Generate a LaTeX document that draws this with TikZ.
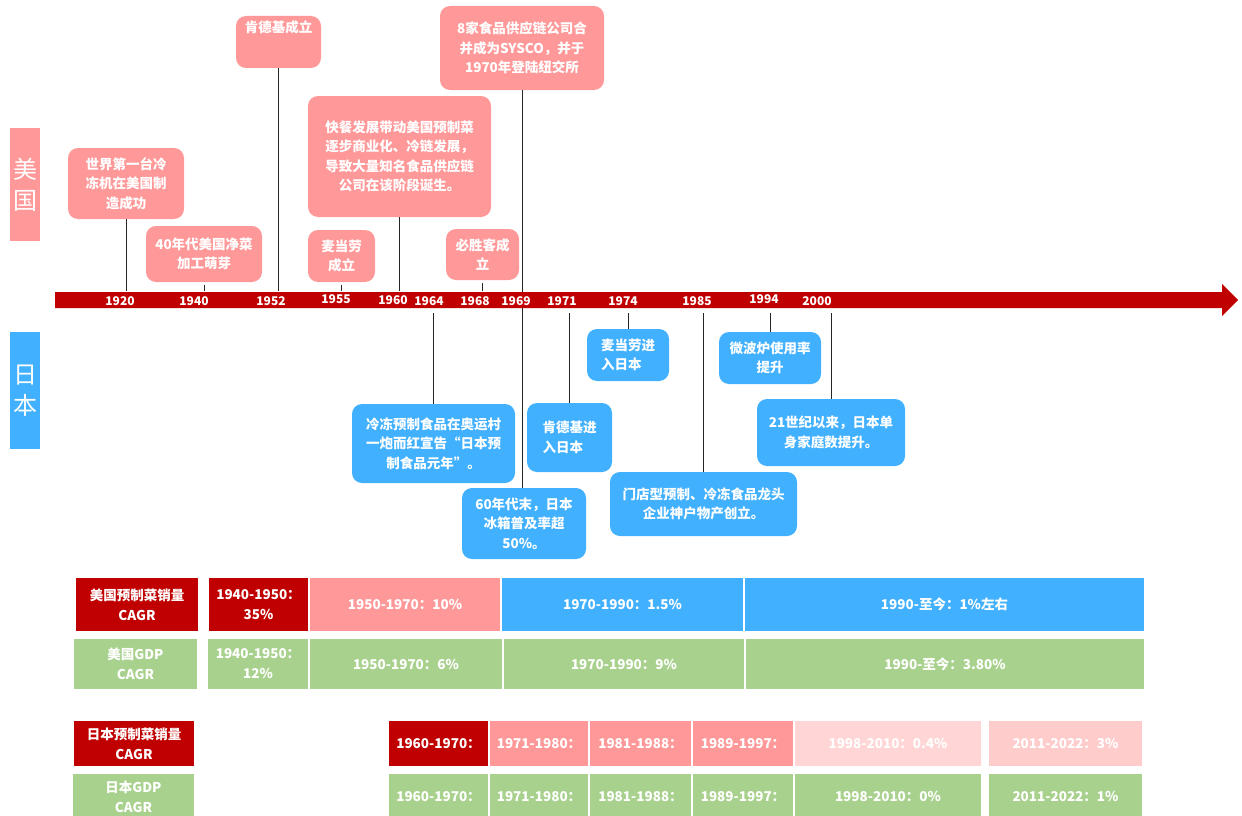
\documentclass[tikz,border=0pt]{standalone}
\usepackage{fontspec}
\setmainfont{Noto Sans CJK SC}
\usetikzlibrary{positioning}
\definecolor{usred}{HTML}{C00000}
\definecolor{uspink}{HTML}{FF9999}
\definecolor{jpblue}{HTML}{41B0FF}
\definecolor{gdpgreen}{HTML}{A9D18E}
\definecolor{palepink}{HTML}{FFD5D5}
\definecolor{softpink}{HTML}{FFCCCC}
\tikzset{
  evbox/.style={rectangle, rounded corners=10pt, fill=#1, text=white, align=center,
                inner sep=4pt, font=\fontsize{13.5}{19.5}\selectfont\bfseries},
  evbox/.default=uspink,
  cell/.style={rectangle, fill=#1, draw=white, line width=1.5pt, text=white, align=center,
               inner sep=0pt, outer sep=0pt, font=\fontsize{13.5}{20}\selectfont\bfseries},
  cell/.default=usred,
  stem/.style={draw=black!85, line width=1pt},
  yr/.style={text=white, inner sep=0pt, font=\fontsize{12}{12}\selectfont\bfseries},
}

\begin{document}
\begin{tikzpicture}[x=1pt, y=-1pt,
  side/.style={rectangle, fill=#1, text=white, align=center, minimum width=30pt,
               font=\fontsize{24}{31}\selectfont}
]
  \fill[white] (0,0) rectangle (1242,816);
  \useasboundingbox (0,0) rectangle (1242,816);

  % country tags
  \node[side=uspink, minimum height=113pt] (ustag) at (25,184.5) {美\\国};
  \node[side=jpblue, minimum height=117pt] (jptag) at (25,390.5) {日\\本};

  % US events
  \node[evbox, minimum width=116pt, minimum height=71pt] (fridge) at (126,183.5) {世界第一台冷\\冻机在美国制\\造成功};
  \node[evbox, minimum width=116pt, minimum height=56pt] (veggie) at (204,254) {40年代美国净菜\\加工萌芽};
  \node[evbox, minimum width=85pt, minimum height=52pt, text height=12pt, text depth=30pt] (kfcus) at (278.5,42) {肯德基成立};
  \node[evbox, minimum width=183pt, minimum height=121pt] (fastfood) at (399.5,156.5) {快餐发展带动美国预制菜\\逐步商业化、冷链发展，\\导致大量知名食品供应链\\公司在该阶段诞生。};
  \node[evbox, minimum width=67pt, minimum height=52pt] (mcdus) at (341.5,256) {麦当劳\\成立};
  \node[evbox, minimum width=73pt, minimum height=51pt] (pizza) at (482.5,254.5) {必胜客成\\立};
  \node[evbox, minimum width=164pt, minimum height=84pt] (sysco) at (522,48) {8家食品供应链公司合\\并成为SYSCO，并于\\1970年登陆纽交所};

  % Japan events
  \node[evbox=jpblue, minimum width=163pt, minimum height=79pt] (olympic) at (433.5,443.5) {冷冻预制食品在奥运村\\一炮而红宣告“日本预\\制食品元年”。};
  \node[evbox=jpblue, minimum width=124pt, minimum height=71pt] (fridgejp) at (524,523.5) {60年代末，日本\\冰箱普及率超\\50\%。};
  \node[evbox=jpblue, minimum width=85pt, minimum height=69pt, align=left] (kfcjp) at (569.5,437.5) {肯德基进\\入日本};
  \node[evbox=jpblue, minimum width=82pt, minimum height=52pt, align=left] (mcdjp) at (628,355) {麦当劳进\\入日本};
  \node[evbox=jpblue, minimum width=187pt, minimum height=64pt] (kobe) at (703.5,504) {门店型预制、冷冻食品龙头\\企业神户物产创立。};
  \node[evbox=jpblue, minimum width=102pt, minimum height=52pt] (microwave) at (770,358) {微波炉使用率\\提升};
  \node[evbox=jpblue, minimum width=148pt, minimum height=67pt] (single) at (831,432.5) {21世纪以来，日本单\\身家庭数提升。};

  \coordinate (axtop) at (0,291);
  \coordinate (axbot) at (0,313);

  \draw[stem] (fridge.south) -- (fridge.south |- axtop);
  \draw[stem, shorten <=3pt] (veggie.south) -- (veggie.south |- axtop);
  \draw[stem] (kfcus.south) -- (kfcus.south |- axtop);
  \draw[stem] (fastfood.south) -- (fastfood.south |- axtop);
  \draw[stem, shorten <=3pt] (mcdus.south) -- (mcdus.south |- axtop);
  \draw[stem, shorten <=3pt] (pizza.south) -- (pizza.south |- axtop);
  \draw[stem] (sysco.south) -- (sysco.south |- fridgejp.north);
  \draw[stem] (olympic.north) -- (olympic.north |- axbot);
  \draw[stem] (kfcjp.north) -- (kfcjp.north |- axbot);
  \draw[stem] (mcdjp.north) -- (mcdjp.north |- axbot);
  \draw[stem] (kobe.north) -- (kobe.north |- axbot);
  \draw[stem] (microwave.north) -- (microwave.north |- axbot);
  \draw[stem] (single.north) -- (single.north |- axbot);

  % timeline axis
  \fill[usred] (55,292) -- (1222,292) -- (1222,284) -- (1238,300) -- (1222,316) -- (1222,308) -- (55,308) -- cycle;
  \node[yr] (y1920) at (120,301) {1920};
  \node[yr] (y1940) at (194,301) {1940};
  \node[yr] (y1952) at (271,301) {1952};
  \node[yr] (y1955) at (336,299) {1955};
  \node[yr] (y1960) at (393,300) {1960};
  \node[yr] (y1964) at (429,301) {1964};
  \node[yr] (y1968) at (475,301) {1968};
  \node[yr] (y1969) at (516,301) {1969};
  \node[yr] (y1971) at (562,301) {1971};
  \node[yr] (y1974) at (623,301) {1974};
  \node[yr] (y1985) at (697,301) {1985};
  \node[yr] (y1994) at (764,299) {1994};
  \node[yr] (y2000) at (817,301) {2000};

  % CAGR table, US
  \node[cell, minimum width=124pt, minimum height=55pt] (ussales) at (137,604.5) {美国预制菜销量\\CAGR};
  \node[cell, minimum width=101pt, minimum height=55pt] (ussa) at (258.5,604.5) {1940-1950：\\35\%};
  \node[cell=uspink, minimum width=192pt, minimum height=55pt, right=0pt of ussa] (ussb) {1950-1970：10\%};
  \node[cell=jpblue, minimum width=243pt, minimum height=55pt, right=0pt of ussb] (ussc) {1970-1990：1.5\%};
  \node[cell=jpblue, minimum width=401pt, minimum height=55pt, right=0pt of ussc] (ussd) {1990-至今：1\%左右};

  \node[cell=gdpgreen, minimum width=125pt, minimum height=52pt] (usgdp) at (135.5,664) {美国GDP\\CAGR};
  \node[cell=gdpgreen, minimum width=102pt, minimum height=52pt] (usga) at (258,664) {1940-1950：\\12\%};
  \node[cell=gdpgreen, minimum width=194pt, minimum height=52pt, right=0pt of usga] (usgb) {1950-1970：6\%};
  \node[cell=gdpgreen, minimum width=242pt, minimum height=52pt, right=0pt of usgb] (usgc) {1970-1990：9\%};
  \node[cell=gdpgreen, minimum width=400pt, minimum height=52pt, right=0pt of usgc] (usgd) {1990-至今：3.80\%};

  % CAGR table, Japan
  \node[cell, minimum width=122pt, minimum height=47pt] (jpsales) at (134,743.5) {日本预制菜销量\\CAGR};
  \node[cell, minimum width=101pt, minimum height=47pt] (jpsa) at (438.5,743.5) {1960-1970：};
  \node[cell=uspink, minimum width=100pt, minimum height=47pt, right=0pt of jpsa] (jpsb) {1971-1980：};
  \node[cell=uspink, minimum width=103pt, minimum height=47pt, right=0pt of jpsb] (jpsc) {1981-1988：};
  \node[cell=uspink, minimum width=102pt, minimum height=47pt, right=0pt of jpsc] (jpsd) {1989-1997：};
  \node[cell=palepink, minimum width=188pt, minimum height=47pt, right=0pt of jpsd] (jpse) {1998-2010：0.4\%};
  \node[cell=softpink, minimum width=155pt, minimum height=47pt, right=6pt of jpse] (jpsf) {2011-2022：3\%};

  \node[cell=gdpgreen, minimum width=123pt, minimum height=47pt] (jpgdp) at (133.5,796.5) {日本GDP\\CAGR};
  \node[cell=gdpgreen, minimum width=101pt, minimum height=47pt] (jpga) at (438.5,796.5) {1960-1970：};
  \node[cell=gdpgreen, minimum width=100pt, minimum height=47pt, right=0pt of jpga] (jpgb) {1971-1980：};
  \node[cell=gdpgreen, minimum width=103pt, minimum height=47pt, right=0pt of jpgb] (jpgc) {1981-1988：};
  \node[cell=gdpgreen, minimum width=102pt, minimum height=47pt, right=0pt of jpgc] (jpgd) {1989-1997：};
  \node[cell=gdpgreen, minimum width=188pt, minimum height=47pt, right=0pt of jpgd] (jpge) {1998-2010：0\%};
  \node[cell=gdpgreen, minimum width=155pt, minimum height=47pt, right=6pt of jpge] (jpgf) {2011-2022：1\%};
\end{tikzpicture}
\end{document}
